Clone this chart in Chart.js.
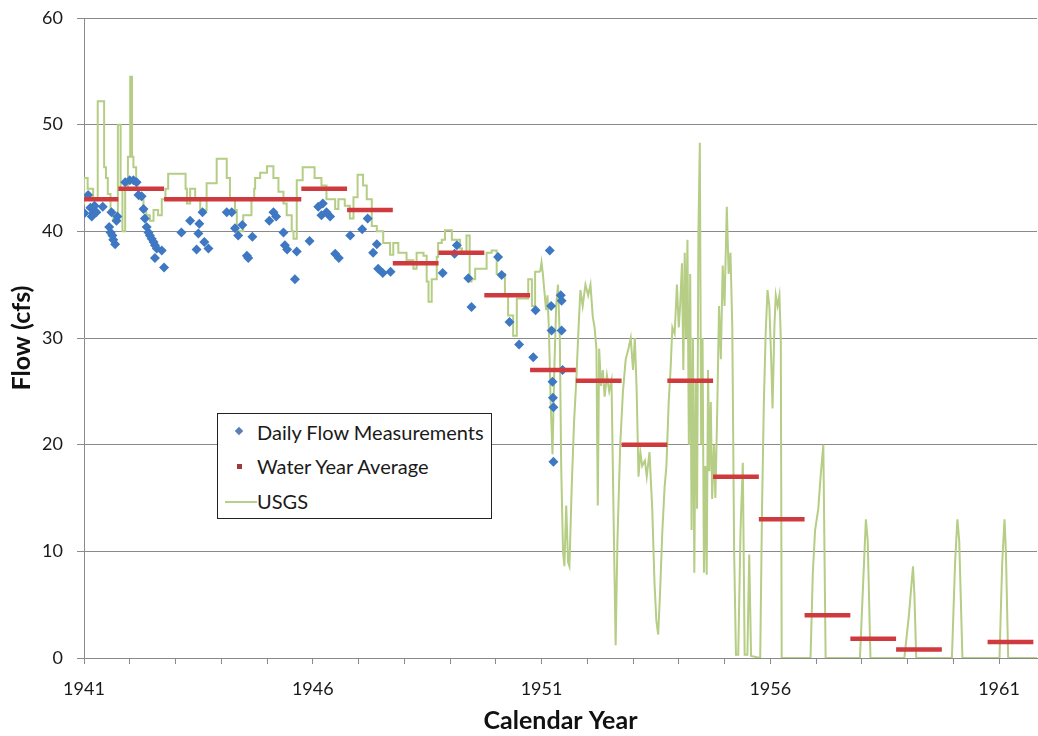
<!DOCTYPE html>
<html>
<head>
<meta charset="utf-8">
<title>Flow (cfs) by Calendar Year</title>
<script src="https://cdn.jsdelivr.net/npm/chart.js@4.4.1/dist/chart.umd.min.js"></script>
<style>
  body { margin: 0; background: #fff; }
  #wrap { position: relative; width: 1038px; height: 736px; }
  #legend {
    position: absolute; left: 217px; top: 413px; width: 273px; height: 104px;
    border: 1px solid #222; background: #fff;
    font-family: Lato, sans-serif; font-size: 20px; color: #1a1a1a;
  }
  #legend .row { position: absolute; left: 39px; line-height: 22px; white-space: nowrap; }
  #legend .mark { position: absolute; }
</style>
</head>
<body>
<div id="wrap">
  <canvas id="flowChart" width="1038" height="736"></canvas>
  <div id="legend">
    <span class="mark" style="left:18px;top:14px;width:6px;height:6px;background:#5a80b6;transform:rotate(45deg);"></span>
    <span class="row" style="top:7px;">Daily Flow Measurements</span>
    <span class="mark" style="left:19px;top:50px;width:5px;height:5px;background:#9b3b3b;"></span>
    <span class="row" style="top:41px;">Water Year Average</span>
    <span class="mark" style="left:7px;top:87px;width:32px;height:2px;background:#b9cf8c;"></span>
    <span class="row" style="top:76px;">USGS</span>
  </div>
</div>
<script>
const yearTicks = [1941, 1942, 1943, 1944, 1945, 1946, 1947, 1948, 1949, 1950, 1951,
    1952, 1953, 1954, 1955, 1956, 1957, 1958, 1959, 1960, 1961];
const flowTicks = [0, 10, 20, 30, 40, 50, 60];

// water year (Oct-Sep) averages, cfs
const waterYears = [1941, 1942, 1943, 1944, 1945, 1946, 1947, 1948, 1949, 1950, 1951,
    1952, 1953, 1954, 1955, 1956, 1957, 1958, 1959, 1960, 1961];
const waterYearAvg = [43, 44, 43, 43, 43, 44, 42, 37, 38, 34, 27,
    26, 20, 26, 17, 13, 4, 1.8, 0.8, null, 1.5];

// spot measurements
const measuredDates = [
    1941.01, 1941.09, 1941.14, 1941.17, 1941.20, 1941.23, 1941.27, 1941.41, 1941.55, 1941.58,
    1941.60, 1941.62, 1941.64, 1941.68, 1941.71, 1941.73, 1941.90, 1942.00, 1942.08, 1942.15,
    1942.19, 1942.26, 1942.30, 1942.33, 1942.37, 1942.41, 1942.44, 1942.48, 1942.52, 1942.55,
    1942.59, 1942.55, 1942.70, 1942.75, 1943.13, 1943.32, 1943.46, 1943.50, 1943.52, 1943.59,
    1943.63, 1943.72, 1944.12, 1944.23, 1944.30, 1944.37, 1944.46, 1944.56, 1944.59, 1944.68,
    1945.05, 1945.14, 1945.20, 1945.36, 1945.39, 1945.44, 1945.61, 1945.65, 1945.93, 1946.12,
    1946.19, 1946.22, 1946.30, 1946.38, 1946.49, 1946.57, 1946.82, 1947.08, 1947.20, 1947.32,
    1947.40, 1947.43, 1947.53, 1947.70, 1948.84, 1949.10, 1949.15, 1949.40, 1949.47, 1950.05,
    1950.13, 1950.30, 1950.51, 1950.82, 1950.87, 1951.18, 1951.21, 1951.22, 1951.24, 1951.25,
    1951.26, 1951.26, 1951.42, 1951.44, 1951.44, 1951.46
];
const measuredFlow = [
    41.7, 43.4, 42.2, 41.4, 41.7, 42.4, 41.8, 42.3, 40.4, 39.9,
    41.8, 39.6, 39.2, 38.8, 41.0, 41.4, 44.6, 44.8, 44.8, 44.6,
    43.4, 43.3, 42.1, 41.2, 40.4, 39.9, 39.6, 39.3, 39.0, 38.7,
    38.4, 37.5, 38.2, 36.6, 39.9, 41.0, 38.3, 39.8, 40.7, 41.8,
    39.0, 38.4, 41.8, 41.8, 40.3, 39.6, 40.6, 37.7, 37.5, 39.5,
    41.0, 41.8, 41.4, 39.9, 38.7, 38.3, 35.5, 38.1, 39.1, 42.3,
    41.5, 42.6, 41.8, 41.4, 37.9, 37.5, 39.6, 40.2, 41.2, 38.0,
    38.8, 36.5, 36.1, 36.2, 36.1, 37.9, 38.7, 35.6, 32.9, 37.6,
    35.9, 31.5, 29.4, 28.2, 32.6, 38.2, 33.0, 30.7, 25.9, 24.4,
    23.5, 18.4, 34.0, 33.5, 30.7, 27.0
];

// USGS gage record, 1941-1950: value holds until the next date
const usgsStepDates = [
    1941.00, 1941.08, 1941.20, 1941.30, 1941.44, 1941.48, 1941.52, 1941.58, 1941.64, 1941.74,
    1941.80, 1941.84, 1941.90, 1941.96, 1942.01, 1942.05, 1942.08, 1942.14, 1942.20, 1942.30,
    1942.36, 1942.44, 1942.52, 1942.62, 1942.70, 1942.78, 1942.84, 1943.22, 1943.25, 1943.32,
    1943.43, 1943.54, 1943.68, 1943.90, 1944.12, 1944.19, 1944.30, 1944.34, 1944.48, 1944.66,
    1944.72, 1944.74, 1944.85, 1945.00, 1945.14, 1945.25, 1945.36, 1945.43, 1945.54, 1945.58,
    1945.65, 1945.78, 1946.04, 1946.19, 1946.30, 1946.49, 1946.56, 1946.70, 1946.81, 1946.89,
    1946.98, 1947.10, 1947.18, 1947.29, 1947.40, 1947.54, 1947.69, 1947.76, 1947.87, 1948.05,
    1948.20, 1948.27, 1948.42, 1948.49, 1948.53, 1948.60, 1948.71, 1948.74, 1948.82, 1948.89,
    1949.04, 1949.22, 1949.26, 1949.36, 1949.43, 1949.47, 1949.55, 1949.80, 1949.91, 1950.02,
    1950.20, 1950.27, 1950.38, 1950.46, 1950.71, 1950.79, 1950.86, 1950.97
];
const usgsStepFlow = [
    42.5, 45, 44, 43, 52.2, 46, 45, 43.5, 42, 41,
    50, 44, 40, 44, 47, 54.5, 47, 46, 44, 43,
    42, 41.5, 41, 42, 41.5, 43, 44, 45.4, 44, 42.6,
    44, 43, 42, 44.5, 46.8, 45, 43, 42, 40, 41.5,
    43, 44, 45, 45.5, 46.1, 45, 43.7, 42.6, 41.5, 40,
    39.3, 44.8, 46, 45, 44.3, 43, 42.1, 43, 42.4, 41.2,
    43.2, 45.3, 44.3, 43, 40.5, 40, 38.9, 37.8, 38.9, 38,
    37.3, 36.5, 38, 37.7, 35.3, 33.4, 35.5, 37.6, 38.9, 39.2,
    40.1, 39.2, 38.4, 37.9, 39.6, 35.3, 35.5, 36.5, 38, 38.2,
    36, 34, 32.1, 30.2, 33.7, 35.5, 33, 36.2
];

// USGS gage record, 1951 on
const usgsDates = [
    1950.97, 1951.00, 1951.03, 1951.06, 1951.10, 1951.13, 1951.16, 1951.20, 1951.24, 1951.28,
    1951.32, 1951.36, 1951.40, 1951.43, 1951.47, 1951.50, 1951.54, 1951.58, 1951.61, 1951.66,
    1951.71, 1951.76, 1951.81, 1951.85, 1951.90, 1951.96, 1952.02, 1952.07, 1952.12, 1952.16,
    1952.20, 1952.23, 1952.26, 1952.30, 1952.34, 1952.38, 1952.43, 1952.48, 1952.53, 1952.58,
    1952.62, 1952.66, 1952.72, 1952.78, 1952.84, 1952.90, 1952.95, 1953.00, 1953.04, 1953.08,
    1953.12, 1953.16, 1953.20, 1953.26, 1953.30, 1953.36, 1953.42, 1953.47, 1953.51, 1953.55,
    1953.59, 1953.64, 1953.69, 1953.73, 1953.78, 1953.82, 1953.86, 1953.91, 1953.96, 1954.00,
    1954.03, 1954.07, 1954.10, 1954.13, 1954.16, 1954.19, 1954.22, 1954.25, 1954.28, 1954.31,
    1954.34, 1954.37, 1954.40, 1954.43, 1954.46, 1954.49, 1954.52, 1954.55, 1954.58, 1954.61,
    1954.64, 1954.67, 1954.70, 1954.73, 1954.77, 1954.80, 1954.84, 1954.88, 1954.92, 1954.96,
    1955.00, 1955.05, 1955.09, 1955.13, 1955.17, 1955.21, 1955.25, 1955.30, 1955.35, 1955.40,
    1955.44, 1955.50, 1955.54, 1955.58, 1955.78, 1955.82, 1955.86, 1955.90, 1955.94, 1955.98,
    1956.02, 1956.05, 1956.09, 1956.12, 1956.16, 1956.20, 1956.23, 1956.25, 1956.88, 1956.93,
    1956.98, 1957.05, 1957.10, 1957.16, 1957.21, 1957.96, 1958.03, 1958.09, 1958.13, 1958.19,
    1958.93, 1959.03, 1959.12, 1959.15, 1959.19, 1959.97, 1960.04, 1960.09, 1960.13, 1960.20,
    1961.01, 1961.07, 1961.12, 1961.15, 1961.20, 1961.83
];
const usgsFlow = [
    36.2, 37.1, 36, 34.5, 32.6, 34, 31, 24, 19.1, 27,
    33, 35, 30, 18, 10, 8.6, 14.3, 9, 8.6, 16,
    22, 26, 31, 34.5, 33, 35, 34, 35, 32, 31,
    29, 14.3, 29, 25.5, 27, 24.5, 26.5, 25, 26, 12,
    1.2, 11, 20, 25, 28, 29, 30, 27, 30, 25,
    17, 19.3, 18, 18.5, 17, 19.3, 14, 7, 3.5, 2.2,
    6, 11.8, 16, 18, 24, 27, 31, 30.4, 35, 31,
    33, 37, 27, 38, 30, 39.2, 20, 36, 12, 30,
    8, 26, 14, 40, 48.3, 20, 30, 8, 18, 7.8,
    27, 17.5, 24, 14.9, 20, 15, 23, 33, 28, 36.8,
    33, 42.3, 36, 38, 31, 10, 0.3, 0.3, 12, 18.3,
    0.3, 0.3, 9.7, 0.2, 0, 14, 24, 30.5, 34.5, 33,
    28, 23.4, 31, 34, 33, 34, 30, 0, 0, 8,
    12, 14, 17, 20, 0, 0, 7, 13, 11, 0,
    0, 4, 8.6, 6, 0, 0, 9, 13, 11, 0,
    0, 9, 13, 10, 0, 0
];

const gridColor = '#8a8a8a';
const tickFont = { family: 'Lato, sans-serif', size: 18 };
const titleFont = { family: 'Lato, sans-serif', size: 25, weight: 'bold' };

function toPoints(xs, ys) {
    return xs.map((x, i) => ({ x: x, y: ys[i] }));
}

// each water year runs Oct 1 of the previous year to Sep 30
function waterYearSegments() {
    const pts = [];
    waterYears.forEach((wy, i) => {
        if (waterYearAvg[i] === null) return;
        pts.push({ x: wy - 0.25, y: waterYearAvg[i] });
        pts.push({ x: wy + 0.75, y: waterYearAvg[i] });
        pts.push({ x: wy + 0.75, y: null });
    });
    return pts;
}

new Chart(document.getElementById('flowChart'), {
    type: 'line',
    data: {
        datasets: [
            {
                label: 'Water Year Average',
                data: waterYearSegments(),
                borderColor: '#cf3a3f',
                borderWidth: 4.5,
                borderCapStyle: 'butt',
                pointRadius: 0,
                spanGaps: false,
                clip: 0,
                order: 0
            },
            {
                label: 'Daily Flow Measurements',
                data: toPoints(measuredDates, measuredFlow),
                showLine: false,
                pointStyle: 'rectRot',
                pointRadius: 5,
                pointBorderWidth: 0,
                pointBackgroundColor: '#3f78c2',
                order: 1
            },
            {
                label: 'USGS',
                data: toPoints(usgsStepDates, usgsStepFlow),
                stepped: 'after',
                borderColor: '#b5cd84',
                borderWidth: 2,
                pointRadius: 0,
                order: 2
            },
            {
                label: 'USGS',
                data: toPoints(usgsDates, usgsFlow),
                borderColor: '#b5cd84',
                borderWidth: 2,
                pointRadius: 0,
                tension: 0,
                order: 2
            }
        ]
    },
    options: {
        responsive: false,
        animation: false,
        layout: { autoPadding: false, padding: { top: 18, right: 1, left: 0, bottom: 0 } },
        plugins: {
            legend: { display: false },
            tooltip: { enabled: false }
        },
        scales: {
            x: {
                type: 'linear',
                min: 1941,
                max: 1961.83,
                afterBuildTicks: (scale) => {
                    scale.ticks = yearTicks.map(v => ({ value: v }));
                },
                afterFit: (scale) => { scale.height = 78; },
                ticks: {
                    autoSkip: false,
                    maxRotation: 0,
                    padding: 14,
                    color: '#1a1a1a',
                    font: tickFont,
                    callback: (v) => ((v - 1941) % 5 === 0 ? String(v) : '')
                },
                grid: {
                    drawOnChartArea: false,
                    drawTicks: true,
                    tickLength: 6,
                    color: gridColor
                },
                border: { color: gridColor, width: 1 },
                title: {
                    display: true,
                    text: 'Calendar Year',
                    color: '#111',
                    font: titleFont,
                    padding: { top: 0, bottom: 0 }
                }
            },
            y: {
                min: 0,
                max: 60,
                afterBuildTicks: (scale) => {
                    scale.ticks = flowTicks.map(v => ({ value: v }));
                },
                afterFit: (scale) => {
                    scale.width = 84;
                    // top and bottom space comes from the layout padding instead
                    scale.paddingTop = 0;
                    scale.paddingBottom = 0;
                },
                ticks: {
                    padding: 14,
                    color: '#1a1a1a',
                    font: tickFont
                },
                grid: {
                    color: gridColor,
                    tickLength: 7
                },
                border: { color: gridColor, width: 1 },
                title: {
                    display: true,
                    text: 'Flow (cfs)',
                    color: '#111',
                    font: titleFont,
                    padding: { top: 7, bottom: 0 }
                }
            }
        }
    }
});
</script>
</body>
</html>
